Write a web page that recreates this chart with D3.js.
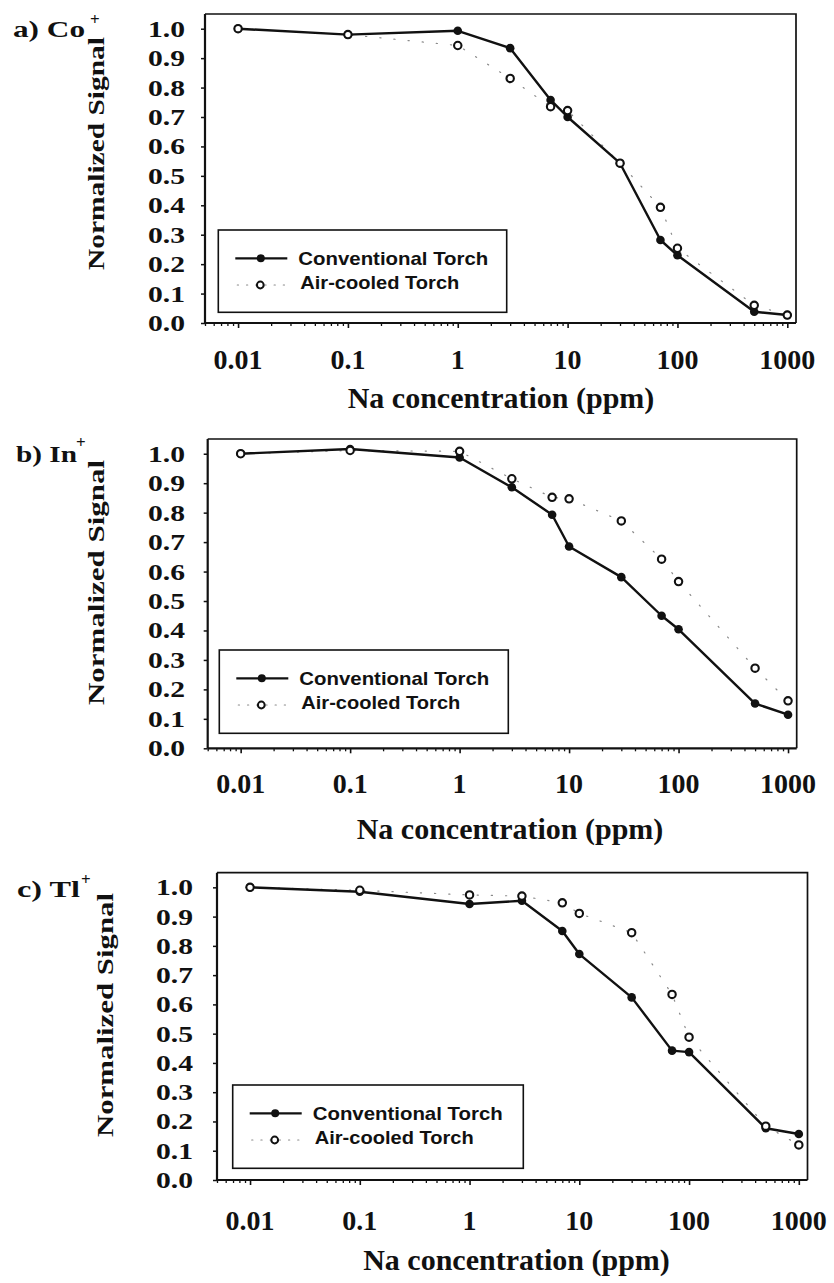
<!DOCTYPE html>
<html>
<head>
<meta charset="utf-8">
<script src="https://cdn.jsdelivr.net/npm/d3@7"></script>
<style>
  html, body { margin: 0; padding: 0; background: #fff; }
  svg { display: block; }
</style>
</head>
<body>
<svg id="fig" width="834" height="1283"></svg>
<script>
// Na concentrations (ppm) at which each ion signal was measured
const concentrations = [0.01, 0.1, 1, 3, 7, 10, 30, 70, 100, 500, 1000];

// Normalized signal, Co+
const coConventional = [1.0, 0.98, 0.993, 0.934, 0.758, 0.70, 0.543, 0.282, 0.23, 0.038, 0.027];
const coAirCooled    = [1.0, 0.98, 0.943, 0.831, 0.735, 0.722, 0.543, 0.393, 0.254, 0.06, 0.027];

// Normalized signal, In+
const inConventional = [1.0, 1.016, 0.987, 0.886, 0.793, 0.685, 0.581, 0.45, 0.404, 0.152, 0.114];
const inAirCooled    = [1.0, 1.011, 1.008, 0.915, 0.852, 0.847, 0.772, 0.642, 0.566, 0.272, 0.161];

// Normalized signal, Tl+
const tlConventional = [1.0, 0.985, 0.943, 0.954, 0.851, 0.772, 0.624, 0.442, 0.437, 0.177, 0.157];
const tlAirCooled    = [1.0, 0.99, 0.974, 0.97, 0.947, 0.911, 0.845, 0.634, 0.488, 0.184, 0.12];

// Axis ticks and labels
const yTickValues = [0, 0.1, 0.2, 0.3, 0.4, 0.5, 0.6, 0.7, 0.8, 0.9, 1.0];
const yTickLabels = ["0.0", "0.1", "0.2", "0.3", "0.4", "0.5", "0.6", "0.7", "0.8", "0.9", "1.0"];
const xTickValues = [0.01, 0.1, 1, 10, 100, 1000];
const xTickLabels = ["0.01", "0.1", "1", "10", "100", "1000"];

const seriesNames = ["Conventional Torch", "Air-cooled Torch"];
const panelLabels = ["a) Co", "b) In", "c) Tl"];
const ionCharge = "+";
const xTitle = "Na concentration (ppm)";
const yTitle = "Normalized Signal";

const panelData = [
  [coConventional, coAirCooled],
  [inConventional, inAirCooled],
  [tlConventional, tlAirCooled]
];

// Geometry of each panel on the page
const layout = [
  { frame: [205, 14, 796, 323], label: [13, 37, 72], sup: [90, 25], yTickRight: 185,
    yTitle: [104, 153.5, 233], xTickY: 369, xTitle: [501, 408], legend: [218.3, 230, 288.4, 82.3] },
  { frame: [207.7, 439, 796.7, 748.3], label: [16, 462, 61], sup: [76, 448], yTickRight: 185,
    yTitle: [104, 582.5, 245], xTickY: 793, xTitle: [510, 839], legend: [219.3, 650, 289, 83.3] },
  { frame: [217, 872.7, 807.5, 1180], label: [17, 897, 63], sup: [81, 885], yTickRight: 193,
    yTitle: [113, 1015, 244], xTickY: 1230, xTitle: [516.5, 1270], legend: [232.7, 1085, 290.6, 83.3] }
];

const serif = "'Liberation Serif', 'Times New Roman', serif";
const sans = "'Liberation Sans', Arial, sans-serif";
const ink = "#111";
const dotInk = "#8a8a8a";

const svg = d3.select("#fig");
svg.append("rect").attr("width", 834).attr("height", 1283).attr("fill", "#fff");

panelData.forEach((series, i) => {
  const L = layout[i];
  const [fl, ft, fr, fb] = L.frame;
  const g = svg.append("g");

  const x = d3.scaleLog().domain([0.005, 1200]).range([fl, fr]);
  const y = d3.scaleLinear().domain([0, 1.05]).range([fb, ft]);

  // frame: top and right edges
  g.append("path")
    .attr("d", `M${fl},${ft}H${fr}V${fb}`)
    .attr("fill", "none").attr("stroke", ink).attr("stroke-width", 1.7);

  // left axis
  const yAxis = g.append("g").attr("transform", `translate(${fl},0)`)
    .call(d3.axisLeft(y).tickValues(yTickValues).tickSize(4).tickFormat(""));
  yAxis.select(".domain").attr("d", `M0,${fb}V${ft}`).attr("stroke", ink).attr("stroke-width", 2.2);
  yAxis.selectAll(".tick line").attr("stroke", ink).attr("stroke-width", 1.5);

  // bottom axis: minor log ticks then decade ticks
  const minor = x.ticks().filter(v => !xTickValues.includes(v));
  const xMinor = g.append("g").attr("transform", `translate(0,${fb})`)
    .call(d3.axisBottom(x).tickValues(minor).tickSize(3).tickFormat(""));
  xMinor.select(".domain").remove();
  xMinor.selectAll(".tick line").attr("stroke", ink).attr("stroke-width", 1.3);
  const xMajor = g.append("g").attr("transform", `translate(0,${fb})`)
    .call(d3.axisBottom(x).tickValues(xTickValues).tickSize(5).tickFormat(""));
  xMajor.select(".domain").attr("d", `M${fl},0H${fr}`).attr("stroke", ink).attr("stroke-width", 2.2);
  xMajor.selectAll(".tick line").attr("stroke", ink).attr("stroke-width", 1.6);

  // y tick labels
  g.selectAll(".ylab").data(yTickValues).join("text")
    .attr("x", L.yTickRight - 37).attr("y", d => y(d) + 8)
    .attr("font-family", serif).attr("font-weight", "bold").attr("font-size", 23.5)
    .attr("textLength", 37).attr("lengthAdjust", "spacingAndGlyphs")
    .attr("fill", ink)
    .text((d, k) => yTickLabels[k]);

  // x tick labels
  g.selectAll(".xlab").data(xTickValues).join("text")
    .attr("x", d => x(d)).attr("y", L.xTickY)
    .attr("text-anchor", "middle")
    .attr("font-family", serif).attr("font-weight", "bold").attr("font-size", 28)
    .attr("fill", ink)
    .text((d, k) => xTickLabels[k]);

  // axis titles
  g.append("text")
    .attr("x", L.xTitle[0]).attr("y", L.xTitle[1])
    .attr("text-anchor", "middle")
    .attr("font-family", serif).attr("font-weight", "bold").attr("font-size", 30)
    .attr("fill", ink).text(xTitle);

  g.append("text")
    .attr("transform", `translate(${L.yTitle[0]},${L.yTitle[1] + L.yTitle[2] / 2}) rotate(-90)`)
    .attr("x", 0).attr("y", 0)
    .attr("font-family", serif).attr("font-weight", "bold").attr("font-size", 24)
    .attr("textLength", L.yTitle[2]).attr("lengthAdjust", "spacingAndGlyphs")
    .attr("fill", ink).text(yTitle);

  // panel label with ion charge
  g.append("text")
    .attr("x", L.label[0]).attr("y", L.label[1])
    .attr("font-family", serif).attr("font-weight", "bold").attr("font-size", 24)
    .attr("textLength", L.label[2]).attr("lengthAdjust", "spacingAndGlyphs")
    .attr("fill", ink).text(panelLabels[i]);
  g.append("text")
    .attr("x", L.sup[0]).attr("y", L.sup[1])
    .attr("font-family", serif).attr("font-weight", "bold").attr("font-size", 17)
    .attr("fill", ink).text(ionCharge);

  // data series
  const pts = series.map(vals => concentrations.map((c, k) => ({ c, v: vals[k] })));
  const line = d3.line().x(d => x(d.c)).y(d => y(d.v));

  g.append("path").datum(pts[1]).attr("d", line)
    .attr("fill", "none").attr("stroke", dotInk).attr("stroke-width", 1.2)
    .attr("stroke-dasharray", "1.2 13").attr("stroke-linecap", "round");
  g.append("path").datum(pts[0]).attr("d", line)
    .attr("fill", "none").attr("stroke", ink).attr("stroke-width", 2.4)
    .attr("stroke-linejoin", "round");

  g.selectAll(".conv").data(pts[0]).join("circle")
    .attr("cx", d => x(d.c)).attr("cy", d => y(d.v)).attr("r", 4.3)
    .attr("fill", ink);
  g.selectAll(".air").data(pts[1]).join("circle")
    .attr("cx", d => x(d.c)).attr("cy", d => y(d.v)).attr("r", 3.7)
    .attr("fill", "#fff").attr("stroke", ink).attr("stroke-width", 2.1);

  // legend
  const [lx, ly, lw, lh] = L.legend;
  const lg = g.append("g").attr("transform", `translate(${lx},${ly})`);
  lg.append("rect").attr("width", lw).attr("height", lh)
    .attr("fill", "#fff").attr("stroke", ink).attr("stroke-width", 1.6);
  lg.append("line").attr("x1", 17).attr("x2", 69).attr("y1", 28.3).attr("y2", 28.3)
    .attr("stroke", ink).attr("stroke-width", 2.2);
  lg.append("circle").attr("cx", 42.5).attr("cy", 28.3).attr("r", 4).attr("fill", ink);
  lg.append("line").attr("x1", 19).attr("x2", 67).attr("y1", 55).attr("y2", 55)
    .attr("stroke", dotInk).attr("stroke-width", 1.2)
    .attr("stroke-dasharray", "1.2 8").attr("stroke-linecap", "round");
  lg.append("circle").attr("cx", 42).attr("cy", 55).attr("r", 3.4)
    .attr("fill", "#fff").attr("stroke", ink).attr("stroke-width", 2);
  lg.append("text").attr("x", 80).attr("y", 34.5)
    .attr("font-family", sans).attr("font-weight", "bold").attr("font-size", 18.5)
    .attr("textLength", 190).attr("lengthAdjust", "spacingAndGlyphs")
    .attr("fill", ink).text(seriesNames[0]);
  lg.append("text").attr("x", 82).attr("y", 59)
    .attr("font-family", sans).attr("font-weight", "bold").attr("font-size", 18.5)
    .attr("textLength", 159).attr("lengthAdjust", "spacingAndGlyphs")
    .attr("fill", ink).text(seriesNames[1]);
});
</script>
</body>
</html>
